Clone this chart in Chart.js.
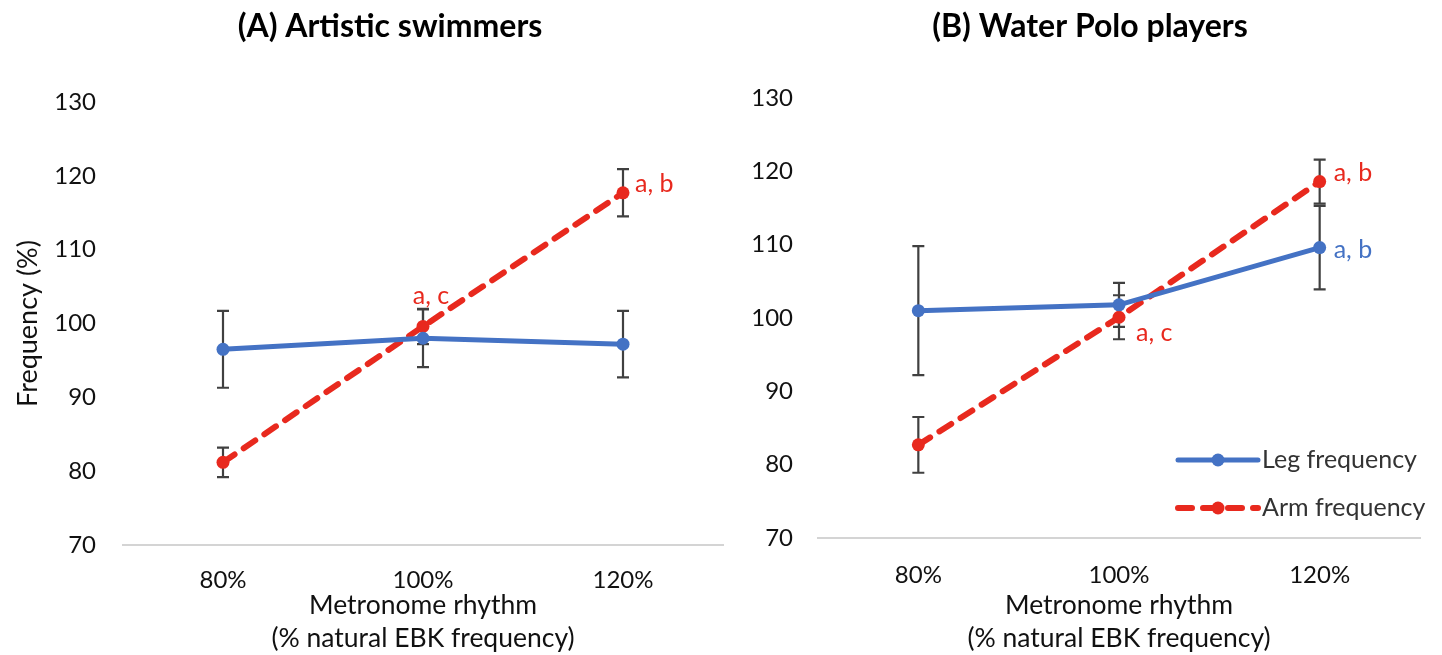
<!DOCTYPE html>
<html>
<head>
<meta charset="utf-8">
<script src="https://cdn.jsdelivr.net/npm/chart.js@4.4.1/dist/chart.umd.min.js"></script>
<style>
  html, body { margin: 0; padding: 0; background: #ffffff; }
  #wrap { position: relative; width: 1442px; height: 655px; overflow: hidden; }
  #wrap canvas { position: absolute; left: 0; top: 0; }
</style>
</head>
<body>
<div id="wrap">
  <canvas id="chartA" width="1442" height="655"></canvas>
  <canvas id="chartB" width="1442" height="655"></canvas>
</div>
<script>
// ---- data ----
const rhythms = ['80%', '100%', '120%'];
const yTicks = [70, 80, 90, 100, 110, 120, 130];
const seriesNames = ['Leg frequency', 'Arm frequency'];

// (A) Artistic swimmers: mean and SD
const legA = [96.5, 98.0, 97.2];
const legSdA = [5.2, 3.9, 4.5];
const armA = [81.2, 99.6, 117.7];
const armSdA = [2.0, 2.4, 3.2];
const legNotesA = ['', '', ''];
const armNotesA = ['', 'a, c', 'a, b'];

// (B) Water Polo players: mean and SD
const legB = [101.0, 101.8, 109.6];
const legSdB = [8.8, 3.0, 5.7];
const armB = [82.7, 100.1, 118.6];
const armSdB = [3.8, 3.0, 3.0];
const legNotesB = ['', '', 'a, b'];
const armNotesB = ['', 'a, c', 'a, b'];

const titleA = '(A) Artistic swimmers';
const titleB = '(B) Water Polo players';
const xTitle = ['Metronome rhythm', '(% natural EBK frequency)'];
const yTitle = 'Frequency (%)';

// ---- styles ----
const FONT = 'Lato, "Open Sans", "DejaVu Sans", sans-serif';
const BLUE = '#4472C4';
const RED = '#E8291E';
const BAR = '#404040';
const TEXT = '#111111';

// Error bars (mean ± SD), drawn beneath the lines
const errorBars = {
  id: 'errorBars',
  beforeDatasetsDraw(chart) {
    const { ctx, scales: { x, y } } = chart;
    ctx.save();
    ctx.strokeStyle = BAR;
    ctx.lineWidth = 2.2;
    chart.data.datasets.forEach((ds) => {
      if (!ds.sd) return;
      ds.data.forEach((v, i) => {
        const px = x.getPixelForValue(i);
        const top = y.getPixelForValue(v + ds.sd[i]);
        const bot = y.getPixelForValue(v - ds.sd[i]);
        ctx.beginPath();
        ctx.moveTo(px, top); ctx.lineTo(px, bot);
        ctx.moveTo(px - 6, top); ctx.lineTo(px + 6, top);
        ctx.moveTo(px - 6, bot); ctx.lineTo(px + 6, bot);
        ctx.stroke();
      });
    });
    ctx.restore();
  }
};

// Significance letters next to the points
const pointNotes = {
  id: 'pointNotes',
  afterDatasetsDraw(chart, args, opts) {
    const { ctx, scales: { x, y } } = chart;
    const place = opts.place || {};
    ctx.save();
    ctx.font = '25px ' + FONT;
    ctx.textBaseline = 'middle';
    chart.data.datasets.forEach((ds, di) => {
      if (!ds.notes) return;
      ds.notes.forEach((t, i) => {
        if (!t) return;
        const p = place[di + '-' + i] || { dx: 14, dy: -8, align: 'left' };
        ctx.fillStyle = ds.borderColor;
        ctx.textAlign = p.align;
        ctx.fillText(t, x.getPixelForValue(i) + p.dx, y.getPixelForValue(ds.data[i]) + p.dy);
      });
    });
    ctx.restore();
  }
};

// Bold panel heading
const panelTitle = {
  id: 'panelTitle',
  afterDraw(chart, args, opts) {
    if (!opts.text) return;
    const { ctx } = chart;
    ctx.save();
    ctx.font = 'bold 32px ' + FONT;
    ctx.fillStyle = '#000000';
    ctx.textAlign = 'center';
    ctx.textBaseline = 'middle';
    ctx.fillText(opts.text, opts.x, opts.y);
    ctx.restore();
  }
};

// Series key drawn inside the plot
const seriesKey = {
  id: 'seriesKey',
  afterDraw(chart, args, opts) {
    if (!opts.show) return;
    const { ctx } = chart;
    ctx.save();
    chart.data.datasets.forEach((ds, di) => {
      const yy = opts.y + di * opts.gap;
      ctx.strokeStyle = ds.borderColor;
      ctx.lineWidth = ds.borderWidth;
      ctx.lineCap = 'round';
      ctx.setLineDash(ds.borderDash || []);
      ctx.beginPath();
      ctx.moveTo(opts.x, yy);
      ctx.lineTo(opts.x + opts.len, yy);
      ctx.stroke();
      ctx.setLineDash([]);
      ctx.fillStyle = ds.borderColor;
      ctx.beginPath();
      ctx.arc(opts.x + opts.len / 2, yy, ds.pointRadius, 0, Math.PI * 2);
      ctx.fill();
      ctx.fillStyle = '#333333';
      ctx.font = '25px ' + FONT;
      ctx.textAlign = 'left';
      ctx.textBaseline = 'middle';
      ctx.fillText(ds.label, opts.x + opts.len + 4, yy);
    });
    ctx.restore();
  }
};

function makeDatasets(leg, legSd, legNotes, arm, armSd, armNotes) {
  return [
    {
      label: seriesNames[0], data: leg, sd: legSd, notes: legNotes,
      borderColor: BLUE, backgroundColor: BLUE, borderWidth: 5,
      pointRadius: 6.5, pointHoverRadius: 6.5, pointBorderWidth: 0,
      tension: 0, borderCapStyle: 'round'
    },
    {
      label: seriesNames[1], data: arm, sd: armSd, notes: armNotes,
      borderColor: RED, backgroundColor: RED, borderWidth: 6,
      borderDash: [14, 11], borderCapStyle: 'round',
      pointRadius: 6.5, pointHoverRadius: 6.5, pointBorderWidth: 0,
      tension: 0
    }
  ];
}

function makeOptions(cfg) {
  return {
    responsive: false,
    animation: false,
    devicePixelRatio: 1,
    events: [],
    layout: { padding: cfg.padding },
    plugins: {
      legend: { display: false },
      tooltip: { enabled: false },
      panelTitle: cfg.title,
      pointNotes: { place: cfg.place },
      seriesKey: cfg.key
    },
    scales: {
      x: {
        type: 'category',
        offset: true,
        grid: { display: false, drawTicks: false },
        border: { display: true, color: '#d4d4d4', width: 2 },
        ticks: { color: TEXT, font: { family: FONT, size: 24 }, padding: cfg.xPad, maxRotation: 0 },
        title: {
          display: true, text: xTitle, color: TEXT,
          font: { family: FONT, size: 26.5, lineHeight: 1.25 },
          padding: { top: 0, bottom: 0 }
        },
        afterFit(s) { s.height = cfg.xHeight; }
      },
      y: {
        min: yTicks[0], max: yTicks[yTicks.length - 1],
        ticks: { stepSize: yTicks[1] - yTicks[0], color: TEXT, font: { family: FONT, size: 24 }, padding: cfg.yPad },
        grid: { display: false, drawTicks: false },
        border: { display: false },
        title: {
          display: cfg.showYTitle, text: yTitle, color: TEXT,
          font: { family: FONT, size: 27, lineHeight: 1.2 },
          padding: { top: 12, bottom: 0 }
        },
        afterFit(s) { s.width = cfg.yWidth; }
      }
    }
  };
}

new Chart(document.getElementById('chartA'), {
  type: 'line',
  data: { labels: rhythms, datasets: makeDatasets(legA, legSdA, legNotesA, armA, armSdA, armNotesA) },
  options: makeOptions({
    padding: { left: 0, top: 102, right: 719, bottom: 0 },
    yWidth: 123, xHeight: 110, yPad: 27, xPad: 21, showYTitle: true,
    title: { text: titleA, x: 390, y: 27 },
    place: {
      '1-1': { dx: 8, dy: -31, align: 'center' },
      '1-2': { dx: 12, dy: -9, align: 'left' }
    },
    key: { show: false }
  }),
  plugins: [errorBars, pointNotes, panelTitle, seriesKey]
});

new Chart(document.getElementById('chartB'), {
  type: 'line',
  data: { labels: rhythms, datasets: makeDatasets(legB, legSdB, legNotesB, armB, armSdB, armNotesB) },
  options: makeOptions({
    padding: { left: 718, top: 98, right: 22, bottom: 0 },
    yWidth: 100, xHeight: 117, yPad: 25, xPad: 23, showYTitle: false,
    title: { text: titleB, x: 1090, y: 27 },
    place: {
      '0-2': { dx: 14, dy: 2, align: 'left' },
      '1-1': { dx: 17, dy: 16, align: 'left' },
      '1-2': { dx: 14, dy: -9, align: 'left' }
    },
    key: { show: true, x: 1178, y: 460, len: 80, gap: 48 }
  }),
  plugins: [errorBars, pointNotes, panelTitle, seriesKey]
});
</script>
</body>
</html>
